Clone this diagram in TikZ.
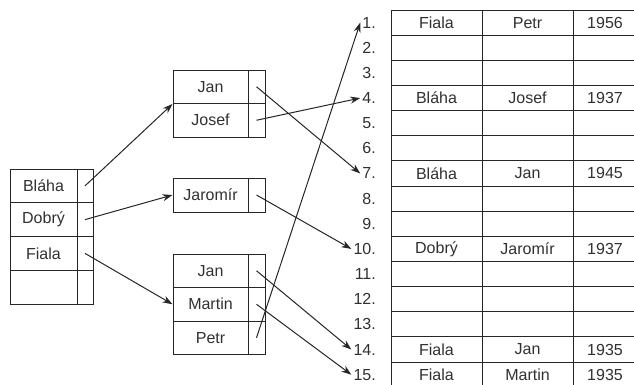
\documentclass[tikz,border=0pt]{standalone}
\usepackage{fontspec}
\setmainfont{Liberation Sans}
\usepackage{xcolor}
\usetikzlibrary{arrows.meta}
\definecolor{ink}{HTML}{262626}
\definecolor{txt}{HTML}{303030}
\tikzset{
  cell/.style={draw=ink, line width=1pt, inner sep=0pt, text=txt, font=\fontsize{16}{19}\selectfont},
  namecell/.style={cell, minimum width=75pt, minimum height=33.5pt},
  ptrcell/.style={cell, minimum width=17pt, minimum height=33.5pt},
  rowcell/.style={cell, minimum width=91pt, minimum height=25.15pt},
  lab/.style={text=txt, font=\fontsize{16}{19}\selectfont, inner sep=2pt, anchor=east},
  txtlab/.style={text=txt, font=\fontsize{16}{19}\selectfont, inner sep=0pt},
  arr/.style={draw=ink, line width=1pt, -{Stealth[length=10pt,width=7pt]}},
}

\begin{document}
\begin{tikzpicture}[x=1pt,y=-1pt]
  \useasboundingbox (0,0) rectangle (634,384);

  % left table (surnames)
  \foreach \t [count=\i] in {Bláha,Dobrý,Fiala,{}}{
    \node[namecell, minimum width=67pt, minimum height=33.75pt] (l\i) at (43.5,{152.125+33.75*\i}) {\t};
    \node[ptrcell, minimum width=16pt, minimum height=33.75pt] (lp\i) at (85,{152.125+33.75*\i}) {};
  }

  % middle tables (first names)
  \foreach \t [count=\i] in {Jan,Josef}{
    \node[namecell] (ma\i) at (210.5,{53.25+33.5*\i}) {\t};
    \node[ptrcell] (mpa\i) at (256.5,{53.25+33.5*\i}) {};
  }
  \node[namecell, minimum height=34pt] (mb1) at (210.5,195) {Jaromír};
  \node[ptrcell, minimum height=34pt] (mpb1) at (256.5,195) {};
  \foreach \t [count=\i] in {Jan,Martin,Petr}{
    \node[namecell] (mc\i) at (210.5,{237.25+33.5*\i}) {\t};
    \node[ptrcell] (mpc\i) at (256.5,{237.25+33.5*\i}) {};
  }

  % right table (records)
  \foreach \i in {1,...,15}{
    \node[lab] (r\i) at (378,{-2.575+25.15*\i}) {\i.};
    \node[rowcell] (s\i) at (436.5,{-2.575+25.15*\i}) {};
    \node[rowcell] (f\i) at (527.5,{-2.575+25.15*\i}) {};
    \node[rowcell, minimum width=64pt] (y\i) at (605,{-2.575+25.15*\i}) {};
  }
  \foreach \i/\s/\f/\y in {1/Fiala/Petr/1956, 4/Bláha/Josef/1937, 7/Bláha/Jan/1945,
                           10/Dobrý/Jaromír/1937, 14/Fiala/Jan/1935, 15/Fiala/Martin/1935}{
    \node[txtlab] (ts\i) at (s\i) {\s};
    \node[txtlab] (tf\i) at (f\i) {\f};
    \node[txtlab] (ty\i) at (y\i) {\y};
  }

  % pointers
  \draw[arr] (lp1.center) -- (ma1.south west);
  \draw[arr] (lp2.center) -- (mb1.west);
  \draw[arr] (lp3.center) -- (mc2.west);
  \draw[arr] (mpa1.center) -- (r7.west);
  \draw[arr] (mpa2.center) -- (r4.west);
  \draw[arr] (mpb1.center) -- (r10.west);
  \draw[arr] (mpc1.center) -- (r14.west);
  \draw[arr] (mpc2.center) -- (r15.west);
  \draw[arr] (mpc3.center) -- (r1.west);
\end{tikzpicture}
\end{document}
